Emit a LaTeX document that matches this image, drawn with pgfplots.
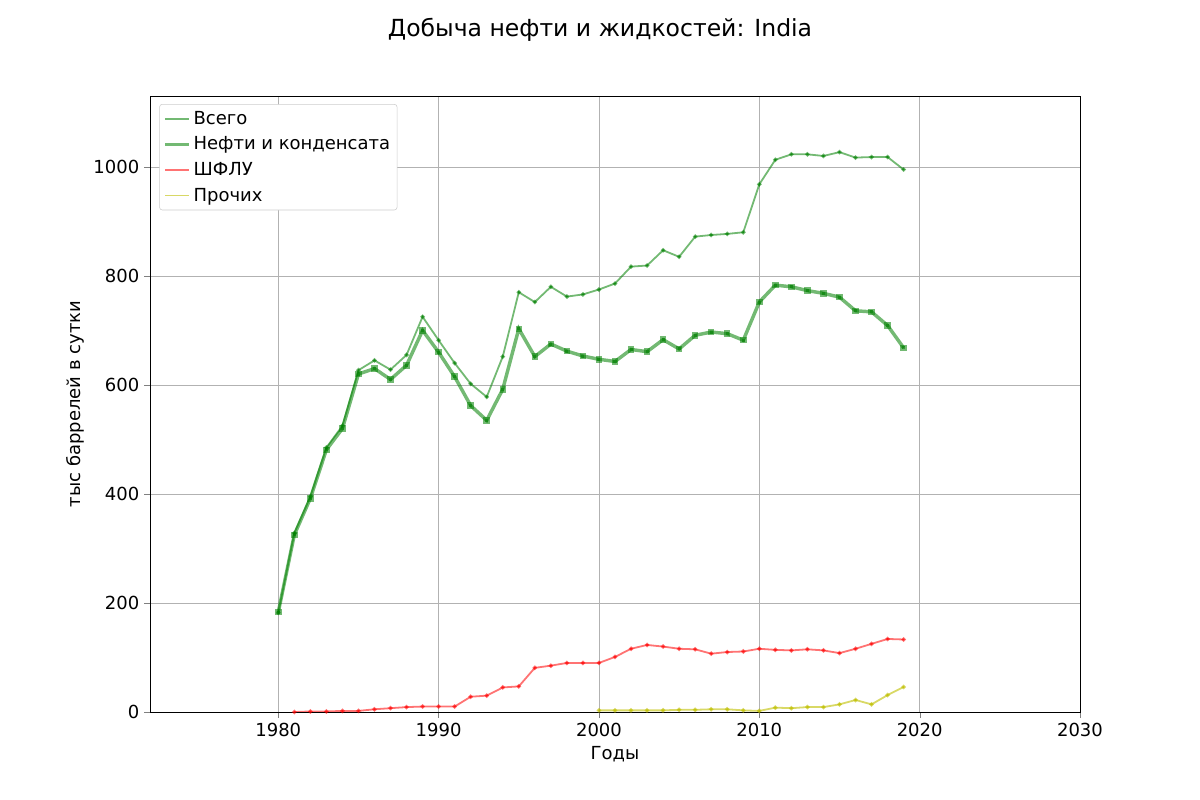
\documentclass[border=0pt]{standalone}
\usepackage{pgfplots}
\pgfplotsset{compat=1.18}
\usepackage{fontspec}
\setmainfont{DejaVu Sans}
\definecolor{mgreen}{RGB}{0,128,0}
\definecolor{myel}{RGB}{191,191,0}
\begin{document}
\begin{tikzpicture}
\path[use as bounding box] (0,0) rectangle (12in,8in);
\node[font=\fontsize{17}{20}\selectfont] at (6in,7.70in) {Добыча нефти и жидкостей: India};
\begin{axis}[at={(1.5in,0.88in)}, anchor=south west, scale only axis,
 width=9.3in, height=6.16in, xmin=1972, xmax=2030, ymin=0, ymax=1130,
 xtick={1980,1990,2000,2010,2020,2030}, ytick={0,200,400,600,800,1000},
 grid=major, grid style={gray!60}, tick align=outside, tick pos=left,
 /pgf/number format/1000 sep={}, /pgf/number format/assume math mode=true,
 ticklabel style={font=\fontsize{13}{15}\selectfont},
 label style={font=\fontsize{13}{15}\selectfont},
 xlabel={Годы}, ylabel={тыс баррелей в сутки},
 legend cell align=left,
 legend style={at={(0.01,0.987)}, anchor=north west, font=\fontsize{13}{16}\selectfont, draw=gray!40, rounded corners=2pt, row sep=3.5pt, inner sep=3pt},
 legend image post style={mark=none}]
\addplot[mgreen, opacity=0.55, line width=1.3pt, mark=*, mark size=0.9pt] coordinates {
(1980,182)(1981,328)(1982,395)(1983,485)(1984,525)(1985,627)(1986,645)(1987,628)(1988,655)(1989,725)(1990,682)(1991,640)(1992,602)(1993,578)(1994,652)(1995,770)(1996,752)(1997,780)(1998,762)(1999,766)(2000,775)(2001,786)(2002,817)(2003,819)(2004,847)(2005,835)(2006,872)(2007,875)(2008,877)(2009,880)(2010,968)(2011,1013)(2012,1023)(2013,1023)(2014,1020)(2015,1027)(2016,1017)(2017,1018)(2018,1018)(2019,995)};
\addlegendentry{Всего}
\addplot[mgreen, opacity=0.55, line width=2.5pt, mark=square*, mark size=1.1pt] coordinates {
(1980,183)(1981,325)(1982,392)(1983,481)(1984,520)(1985,620)(1986,630)(1987,610)(1988,636)(1989,700)(1990,660)(1991,615)(1992,562)(1993,535)(1994,592)(1995,703)(1996,652)(1997,675)(1998,662)(1999,653)(2000,647)(2001,643)(2002,665)(2003,661)(2004,683)(2005,666)(2006,691)(2007,697)(2008,694)(2009,682)(2010,752)(2011,783)(2012,780)(2013,773)(2014,768)(2015,761)(2016,736)(2017,734)(2018,709)(2019,668)};
\addlegendentry{Нефти и конденсата}
\addplot[red, opacity=0.55, line width=1.3pt, mark=*, mark size=0.9pt] coordinates {
(1981,0)(1982,1)(1983,1)(1984,2)(1985,2)(1986,5)(1987,7)(1988,9)(1989,10)(1990,10)(1991,10)(1992,28)(1993,30)(1994,45)(1995,47)(1996,81)(1997,85)(1998,90)(1999,90)(2000,90)(2001,101)(2002,116)(2003,123)(2004,120)(2005,116)(2006,115)(2007,107)(2008,110)(2009,111)(2010,116)(2011,114)(2012,113)(2013,115)(2014,113)(2015,108)(2016,116)(2017,125)(2018,134)(2019,133)};
\addlegendentry{ШФЛУ}
\addplot[myel, opacity=0.6, line width=1.3pt, mark=*, mark size=0.9pt] coordinates {
(2000,3)(2001,3)(2002,3)(2003,3)(2004,3)(2005,4)(2006,4)(2007,5)(2008,5)(2009,3)(2010,2)(2011,8)(2012,7)(2013,9)(2014,9)(2015,14)(2016,22)(2017,14)(2018,31)(2019,46)};
\addlegendentry{Прочих}
\end{axis}
\end{tikzpicture}
\end{document}
